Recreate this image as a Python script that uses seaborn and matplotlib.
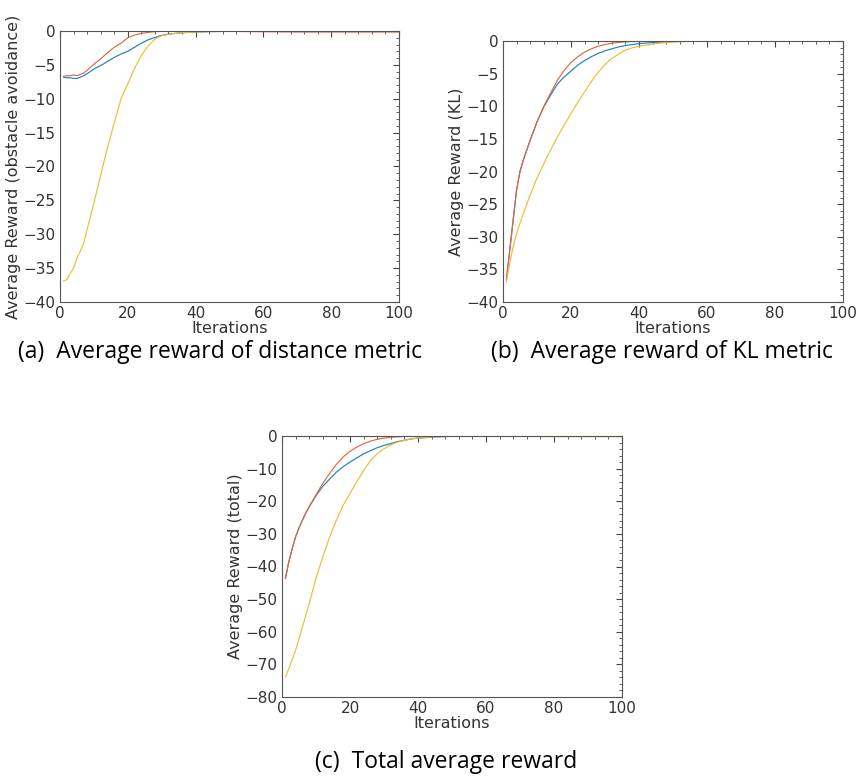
import pandas as pd
import seaborn as sns
import matplotlib.pyplot as plt
from matplotlib.ticker import MultipleLocator

iters = [1, 2, 3, 4, 5, 6, 7, 8, 10, 12, 14, 16, 18, 20, 22, 24, 26, 28, 30,
         32, 34, 36, 38, 40, 45, 50, 55, 60, 70, 80, 90, 100]

# (a) obstacle avoidance reward
a_blue = [-6.8, -6.9, -6.9, -7.0, -7.0, -6.8, -6.6, -6.3, -5.6, -5.1, -4.5, -3.9,
          -3.4, -3.0, -2.4, -1.8, -1.3, -0.95, -0.65, -0.45, -0.35, -0.25, -0.2,
          -0.15, -0.08, -0.05, -0.05, -0.05, -0.05, -0.05, -0.05, -0.05]
a_red = [-6.7, -6.6, -6.6, -6.5, -6.6, -6.4, -6.2, -5.8, -4.9, -4.1, -3.2, -2.4,
         -1.8, -1.0, -0.6, -0.35, -0.2, -0.1, -0.05, -0.05, -0.05, -0.05, -0.05,
         -0.05, -0.05, -0.05, -0.08, -0.1, -0.15, -0.15, -0.15, -0.15]
a_yellow = [-36.9, -36.7, -35.8, -35.0, -33.5, -32.5, -31.3, -29.3, -25.4, -21.3,
            -17.2, -13.6, -10.0, -7.8, -5.5, -3.6, -2.2, -1.2, -0.7, -0.5, -0.35,
            -0.25, -0.2, -0.15, -0.08, -0.05, -0.05, -0.05, -0.05, -0.05, -0.05, -0.05]

# (b) KL reward
b_blue = [-36.6, -32.0, -27.4, -22.8, -20.0, -18.2, -16.7, -15.2, -12.4, -10.1,
          -8.3, -6.6, -5.5, -4.6, -3.7, -3.0, -2.4, -1.9, -1.5, -1.2, -0.9, -0.7,
          -0.55, -0.4, -0.2, -0.08, -0.03, 0, 0, 0, 0, 0]
b_red = [-36.6, -32.0, -27.4, -22.8, -20.0, -18.2, -16.7, -15.2, -12.4, -10.0,
         -8.0, -6.0, -4.5, -3.3, -2.4, -1.7, -1.2, -0.8, -0.55, -0.35, -0.22, -0.12,
         -0.08, -0.05, -0.02, 0, 0, 0, 0, 0, 0, 0]
b_yellow = [-36.9, -34.0, -31.5, -29.5, -27.9, -26.4, -25.0, -23.6, -21.0, -18.8,
            -16.7, -14.7, -12.9, -11.1, -9.4, -7.8, -6.2, -4.8, -3.6, -2.7, -2.0,
            -1.4, -1.05, -0.8, -0.4, -0.15, -0.05, 0, 0, 0, 0, 0]

# (c) total reward
c_blue = [-43.7, -38.6, -34.5, -30.9, -28.2, -25.8, -23.6, -21.7, -18.3, -15.4,
          -13.2, -11.1, -9.4, -8.0, -6.7, -5.5, -4.5, -3.6, -2.9, -2.3, -1.7, -1.3,
          -0.9, -0.65, -0.3, -0.1, -0.05, 0, 0, 0, 0, 0]
c_red = [-43.7, -38.6, -34.5, -30.9, -28.2, -25.8, -23.6, -21.7, -18.0, -14.5,
         -11.5, -8.7, -6.4, -4.7, -3.4, -2.4, -1.6, -1.0, -0.65, -0.4, -0.25, -0.15,
         -0.1, -0.05, 0, 0, 0, 0, 0, 0, 0, 0]
c_yellow = [-73.9, -71.3, -68.5, -65.7, -62.2, -58.5, -55.0, -51.4, -43.6, -37.0,
            -31.0, -25.8, -21.2, -17.6, -14.0, -10.6, -7.6, -5.4, -3.9, -2.7, -1.9,
            -1.3, -0.9, -0.6, -0.25, -0.08, -0.03, 0, -0.1, -0.2, -0.2, -0.2]

colors = {'blue': '#1f80c0', 'red': '#dd6a3e', 'yellow': '#efbc3a'}

sns.set_style('white')
plt.rcParams['font.family'] = ['DejaVu Sans']

fig = plt.figure(figsize=(8.57, 7.78), dpi=100)

panels = [
    ([60 / 857, 1 - 302 / 778, 339 / 857, 271 / 778], a_blue, a_red, a_yellow,
     'Average Reward (obstacle avoidance)', 5, 1, -40,
     (220, 352), '(a)  Average reward of distance metric'),
    ([503 / 857, 1 - 302 / 778, 340 / 857, 261 / 778], b_blue, b_red, b_yellow,
     'Average Reward (KL)', 5, 1, -40,
     (662, 352), '(b)  Average reward of KL metric'),
    ([282 / 857, 1 - 697 / 778, 340 / 857, 261 / 778], c_blue, c_red, c_yellow,
     'Average Reward (total)', 10, 2, -80,
     (446, 762), '(c)  Total average reward'),
]

for rect, blue, red, yellow, ylab, major, minor, ymin, cap_xy, caption in panels:
    ax = fig.add_axes(rect)
    df = pd.DataFrame({'Iterations': iters, 'blue': blue, 'red': red, 'yellow': yellow})
    for name in ['blue', 'red', 'yellow']:
        sns.lineplot(data=df, x='Iterations', y=name, ax=ax, color=colors[name],
                     linewidth=0.85, legend=False)
    ax.set_xlim(0, 100)
    ax.set_ylim(ymin, 0)
    ax.xaxis.set_major_locator(MultipleLocator(20))
    ax.xaxis.set_minor_locator(MultipleLocator(4))
    ax.yaxis.set_major_locator(MultipleLocator(major))
    ax.yaxis.set_minor_locator(MultipleLocator(minor))
    ax.tick_params(which='both', direction='in', top=True, right=True,
                   colors='#444444', labelcolor='#333333', labelsize=11, pad=3)
    ax.tick_params(which='major', length=4, width=0.8)
    ax.tick_params(which='minor', length=2, width=0.6)
    for sp in ax.spines.values():
        sp.set_color('#555555')
        sp.set_linewidth(0.8)
    ax.set_xlabel('Iterations', fontsize=11.5, color='#333333', labelpad=0)
    ax.set_ylabel(ylab, fontsize=11.5, color='#333333', labelpad=2)
    fig.text(cap_xy[0] / 857, 1 - cap_xy[1] / 778, caption, ha='center', va='center',
             fontsize=16.5, family=['Open Sans', 'DejaVu Sans'], color='black')

fig.savefig('out.png', dpi=100)
